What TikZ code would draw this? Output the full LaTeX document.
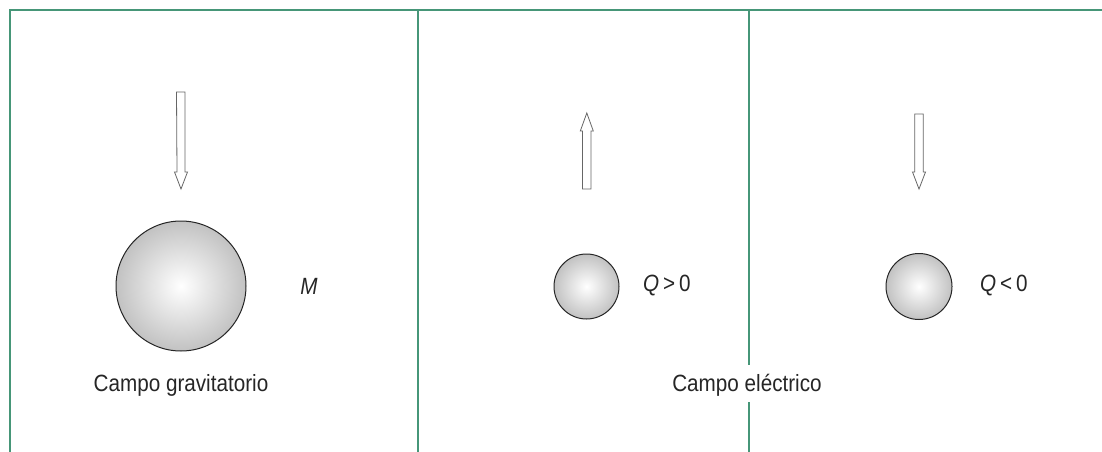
\documentclass[tikz,border=0pt]{standalone}
\usepackage{fontspec}
\setmainfont{Liberation Sans}[FakeStretch=0.88]
\begin{document}
\begin{tikzpicture}[x=1pt,y=-1pt,
  frame/.style={draw=frameclr,line width=1.6pt},
  ball/.style={circle,draw=black!85,line width=1pt,inner sep=0pt,shading=radial,inner color=white,outer color=black!24},
  blockarrow/.style={draw=black!60,line width=0.8pt,fill=white,line join=miter},
  lbl/.style={font=\fontsize{23.5}{26}\selectfont,text=black!85,inner sep=0pt},
  qlbl/.style={font=\fontsize{23.5}{26}\selectfont,text=black!85,inner sep=0pt}]
\definecolor{frameclr}{RGB}{70,150,120}
\useasboundingbox (0,0) rectangle (1102,452);
% frame lines
\coordinate (tl) at (10,10);
\coordinate (tr) at (1102,10);
\coordinate (bl) at (10,452);
\coordinate (m1t) at (418,10);
\coordinate (m1b) at (418,452);
\coordinate (m2t) at (749,10);
\coordinate (m2a) at (749,365);
\coordinate (m2c) at (749,402);
\coordinate (m2b) at (749,452);
\draw[frame] (bl) -- (tl) -- (tr);
\draw[frame] (m1t) -- (m1b);
\draw[frame] (m2t) -- (m2a);
\draw[frame] (m2c) -- (m2b);
% balls
\node[ball,minimum size=130pt] (M) at (181,286) {};
\node[ball,minimum size=65pt] (Qp) at (586.5,286.5) {};
\node[ball,minimum size=66pt] (Qn) at (919,286.5) {};
% arrows
\draw[blockarrow] (176.5,92) -- (185,92) -- (185,172) -- (187.5,172) -- (181,189) -- (174.5,172) -- (177,172) -- cycle;
\draw[blockarrow] (582.5,189) -- (591,189) -- (591,131) -- (593.3,131) -- (586.8,113) -- (580.3,131) -- (582.5,131) -- cycle;
\draw[blockarrow] (914.8,114) -- (923.3,114) -- (923.3,172) -- (925.5,172) -- (919,189) -- (912.5,172) -- (914.8,172) -- cycle;
% labels
\node[lbl] (tM) at (309,286) {\itshape M};
\node[qlbl,anchor=west] (tQp) at (643,286) {\itshape Q\,{\upshape >}\,\upshape 0};
\node[qlbl,anchor=west] (tQn) at (980,286) {\itshape Q\,{\upshape <}\,\upshape 0};
\node[lbl] (tg) at (181,385) {Campo gravitatorio};
\node[lbl,fill=white,inner sep=1pt] (te) at (747,385) {Campo eléctrico};
\end{tikzpicture}
\end{document}
